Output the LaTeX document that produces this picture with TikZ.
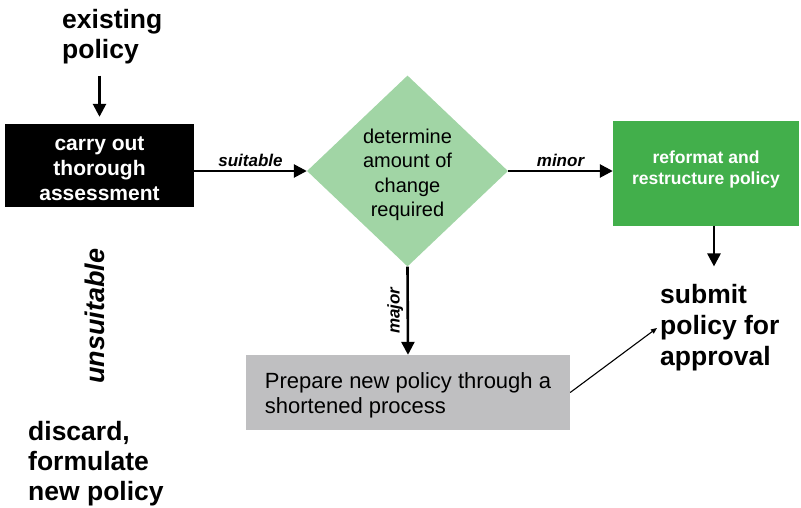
\documentclass[tikz,border=0pt]{standalone}
\usepackage{fontspec}
\setmainfont{Liberation Sans}
\usetikzlibrary{shapes.geometric, arrows.meta}

\definecolor{paleleaf}{RGB}{161,213,165}
\definecolor{leaf}{RGB}{66,175,75}
\definecolor{ash}{RGB}{191,191,193}

\newcommand{\pxfont}[2]{\fontsize{#1}{#2}\selectfont}

\tikzstyle{assessbox} = [
    rectangle,
    fill=black,
    text=white,
    font=\pxfont{21}{25}\bfseries,
    align=center,
    minimum width=189pt,
    minimum height=83pt,
    inner sep=0pt
]
\tikzstyle{decision} = [
    diamond,
    fill=paleleaf,
    font=\pxfont{20}{24.5},
    align=center,
    minimum width=201pt,
    minimum height=191pt,
    inner sep=0pt
]
\tikzstyle{greenbox} = [
    rectangle,
    fill=leaf,
    text=white,
    font=\pxfont{17.5}{21.5}\bfseries,
    align=center,
    minimum width=186pt,
    minimum height=105pt,
    inner sep=0pt
]
\tikzstyle{graybox} = [
    rectangle,
    fill=ash,
    font=\pxfont{22}{25.5},
    align=left,
    minimum width=324pt,
    minimum height=75pt
]
\tikzstyle{bigtext} = [font=\pxfont{26.5}{30}\bfseries, align=left, inner sep=3pt]
\tikzstyle{armlabel} = [font=\pxfont{17}{20}\bfseries\itshape]
\tikzstyle{arrow} = [line width=2.6pt, -{Triangle[length=13pt,width=13pt]}]
\tikzstyle{thinarrow} = [line width=1.1pt, -{Triangle[length=6pt,width=5pt]}]

\begin{document}
\begin{tikzpicture}[x=1pt, y=-1pt]
\useasboundingbox (0,0) rectangle (801,507);

\node (existing) [bigtext, anchor=west] at (59,37) {existing\\policy};

\node (assess) [assessbox] at (99.5,165.5) {\rule{0pt}{21pt}carry out\\thorough\\assessment};

\node (decide) [decision] at (407.5,171) {\rule{0pt}{22pt}determine\\amount of\\change\\required};

\node (reformat) [greenbox] at (706,173.5) {reformat and\\restructure policy\rule[-12pt]{0pt}{0pt}};

\node (prepare) [graybox] at (408,392.5)
{\rule{0pt}{22pt}Prepare new policy through a\\shortened process};

\node (submit) [bigtext, font=\pxfont{26.5}{31}\bfseries, anchor=west] at (657,328) {submit\\policy for\\approval};

\node (unsuitable) [bigtext, font=\pxfont{27}{30}\bfseries\itshape, rotate=90] at (95,316) {unsuitable};

\node (discard) [bigtext, anchor=west] at (25,464) {discard,\\formulate\\new policy};

\draw [arrow, shorten <=8pt, shorten >=7pt] (existing.south -| assess.north) -- (assess.north);
\draw [arrow] (assess.east |- decide.west) -- node[armlabel, above] {suitable} (decide.west);
\draw [arrow] (decide.east) -- node[armlabel, above] {minor} (reformat.west |- decide.east);
\draw [arrow] (decide.south) -- node[armlabel, rotate=90, anchor=south] {major} (prepare.north);
\draw [arrow, shorten >=15pt] ([xshift=8pt]reformat.south) -- ([xshift=8pt]reformat.south |- submit.north);
\draw [thinarrow] (prepare.east) -- (submit.west);

\end{tikzpicture}
\end{document}
